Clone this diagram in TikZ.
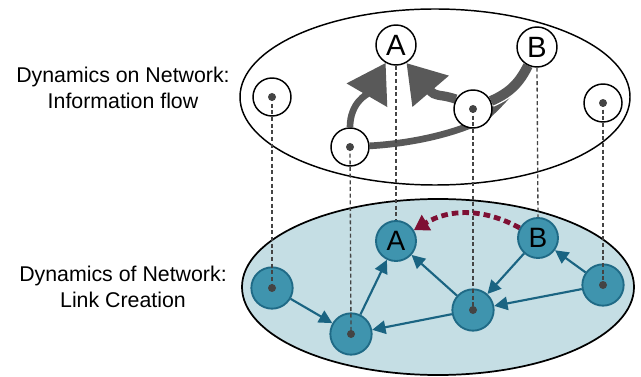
\documentclass[tikz,border=0pt]{standalone}
\usepackage{fontspec}
\setmainfont{Liberation Sans}
\usetikzlibrary{arrows.meta}
\pgfdeclarelayer{background}
\pgfsetlayers{background,main}
\definecolor{layerfill}{HTML}{C5DEE4}
\definecolor{nodefill}{HTML}{3F94AE}
\definecolor{nodeline}{HTML}{1F6A86}
\definecolor{linkblue}{HTML}{1A6482}
\definecolor{flowgray}{HTML}{595959}
\definecolor{dotgray}{HTML}{444444}
\definecolor{newred}{HTML}{7E1034}
\tikzset{
	topnode/.style={circle, draw=black, fill=white, line width=1.1pt, minimum size=28.5pt, inner sep=0pt},
	toplabel/.style={topnode, minimum size=30pt, font=\fontsize{22}{22}\selectfont},
	botnode/.style={circle, draw=nodeline, fill=nodefill, line width=1.4pt, minimum size=31pt, inner sep=0pt},
	botlabel/.style={botnode, minimum size=30pt, font=\fontsize{21}{21}\selectfont},
	centerdot/.style={circle, fill=dotgray, minimum size=6pt, inner sep=0pt},
	vline/.style={dash pattern=on 3pt off 2pt, line width=1pt, draw=dotgray},
	flowline/.style={line width=5pt, draw=flowgray},
	flow/.style={flowline, -{Triangle[length=28pt,width=34pt]}},
	link/.style={line width=1.6pt, draw=linkblue, -{Triangle[length=10pt,width=10pt]}},
	newlink/.style={line width=3.6pt, draw=newred, dash pattern=on 5pt off 3pt, -{Triangle[length=11pt,width=13pt]}},
	layertext/.style={align=center, font=\fontsize{16}{20}\selectfont}
}

\begin{document}
\begin{tikzpicture}[x=0.75pt, y=-0.75pt]
			%%%%% START %%%%%
			\useasboundingbox (0, 0) rectangle (641, 377);
			
			\node[layertext] (ontext) at (123, 88) {Dynamics on Network:\\Information flow};
			\node[layertext] (oftext) at (123, 287) {Dynamics of Network:\\Link Creation};
			
			% upper layer
			\node[toplabel] (tA) at (396, 45) {A};
			\node[toplabel] (tB) at (537, 47) {B};
			\node[topnode] (tl) at (272, 97) {};
			\node[topnode] (tbl) at (350, 147) {};
			\node[topnode] (tmid) at (473, 109) {};
			\node[topnode] (tr) at (603, 103) {};
			
			% lower layer
			\node[botlabel] (bA) at (396, 241) {A};
			\node[botlabel] (bB) at (538, 238) {B};
			\node[botnode] (bl) at (272, 288) {};
			\node[botnode] (bbl) at (351, 334) {};
			\node[botnode] (bmid) at (473, 310) {};
			\node[botnode] (br) at (603, 285) {};
			
			\begin{pgfonlayer}{background}
			% the two layers
			\draw[line width=1.1pt, fill=white] (435, 97) ellipse [x radius=195, y radius=88];
			\draw[line width=1.3pt, fill=layerfill] (438, 287) ellipse [x radius=196, y radius=88];
			
			% information flow
			\draw[flowline] (tbl) .. controls (420, 143) and (465, 130) .. (485, 118)
				.. controls (505, 100) and (520, 82) .. (tB);
			\draw[flowline, line width=7.5pt, preaction={draw=white, line width=9.5pt}] (tB) to[bend left=20] (tmid);
			\draw[flow, line width=7pt] (tmid.150) .. controls +(-18, -6) and +(30, 35) .. (tA.300);
			\draw[flow] (tbl.north) .. controls +(0, -25) and +(-18, 31) .. (tA.240);
			\end{pgfonlayer}
			
			% links
			\draw[link] (bl) -- (bbl);
			\draw[link] (bbl) -- (bA);
			\draw[link] (bmid) -- (bA);
			\draw[link] (bmid) -- (bbl);
			\draw[link] (bB) -- (bmid);
			\draw[link] (br) -- (bmid);
			\draw[link] (br) -- (bB);
			
			% projections
			\draw[vline] (tl.center) -- (bl.center);
			\draw[vline] (tbl.center) -- (bbl.center);
			\draw[vline] (tA.south) -- (bA.north);
			\draw[vline] (tmid.center) -- (bmid.center);
			\draw[vline] (tB.south) -- (bB.north);
			\draw[vline] (tr.center) -- (br.center);
			
			\foreach \n in {tl, tbl, tmid, tr, bl, bbl, bmid, br}
				\node[centerdot] (\n-dot) at (\n) {};
			
			% new link
			\draw[newlink] (bB) to[bend right=30] (bA);
			
			%%%%% END %%%%%
		\end{tikzpicture}
\end{document}
